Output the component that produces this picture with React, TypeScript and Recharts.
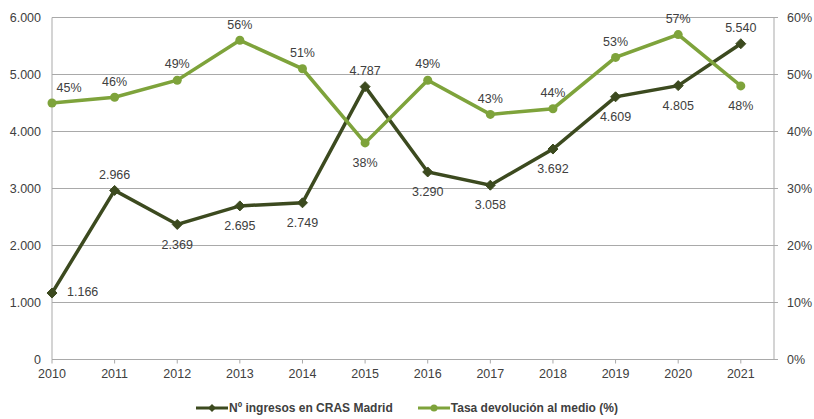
import React from "react";
import { LineChart, Line, XAxis, YAxis, CartesianGrid, LabelList } from "recharts";

const years = [2010, 2011, 2012, 2013, 2014, 2015, 2016, 2017, 2018, 2019, 2020, 2021];
const ingresos = [1166, 2966, 2369, 2695, 2749, 4787, 3290, 3058, 3692, 4609, 4805, 5540];
const tasa = [45, 46, 49, 56, 51, 38, 49, 43, 44, 53, 57, 48];
const leftTicks = [0, 1000, 2000, 3000, 4000, 5000, 6000];
const rightTicks = [0, 10, 20, 30, 40, 50, 60];

// where each data label sits relative to its point
const ingresosLabelPos = ["right", "up", "down", "down", "down", "up", "down", "down", "down", "down", "down", "up"];
const tasaLabelPos = ["upright", "up", "up", "up", "up", "down", "up", "up", "up", "up", "up", "down"];

const DARK = "#3c4a1f";
const LIGHT = "#7ea33b";
const GRID = "#a9a9a9";
const TEXT = "#404040";
const FONT = "'Liberation Sans', Arial, sans-serif";

const data = years.map((y, i) => ({ year: y, ingresos: ingresos[i], tasa: tasa[i] }));

const fmtThousands = (v: number) => String(v).replace(/\B(?=(\d{3})+(?!\d))/g, ".");

const Diamond = (props: any) => {
  const { cx, cy } = props;
  if (cx == null || cy == null) return null;
  const s = 5;
  return <path d={`M${cx},${cy - s}L${cx + s},${cy}L${cx},${cy + s}L${cx - s},${cy}Z`} fill={DARK} stroke={DARK} />;
};

const Circle = (props: any) => {
  const { cx, cy } = props;
  if (cx == null || cy == null) return null;
  return <circle cx={cx} cy={cy} r={4.5} fill={LIGHT} />;
};

const makeLabel = (positions: string[], fmt: (v: number) => string) => (props: any) => {
  const { x, y, value, index } = props;
  const pos = positions[index];
  let dx = 0;
  let dy = 0;
  let anchor = "middle";
  if (pos === "up") dy = -15;
  if (pos === "upright") {
    dy = -14;
    dx = 17;
  }
  if (pos === "down") dy = 21;
  if (pos === "right") {
    dx = 15;
    anchor = "start";
  }
  return (
    <text x={x + dx} y={y + dy} textAnchor={anchor} dominantBaseline="middle" fill={TEXT} fontSize={12.5} fontFamily={FONT}>
      {fmt(value)}
    </text>
  );
};

const LegendItem = ({ color, label, diamond, gap }: any) => (
  <div style={{ display: "flex", alignItems: "center", marginRight: gap || 0 }}>
    <svg width={32} height={12}>
      <line x1={0} y1={6} x2={32} y2={6} stroke={color} strokeWidth={3} />
      {diamond ? <path d="M16,2L20,6L16,10L12,6Z" fill={color} /> : <circle cx={16} cy={6} r={3.5} fill={color} />}
    </svg>
    <span style={{ marginLeft: 1, fontSize: 12, fontWeight: "bold", color: TEXT, fontFamily: FONT }}>{label}</span>
  </div>
);

export default function App() {
  return (
    <div style={{ position: "fixed", left: 0, top: 0, width: 814, height: 419, background: "#fff" }}>
      <LineChart width={814} height={419} data={data} margin={{ top: 17.5, right: 0, bottom: 29.5, left: 0 }}>
        <CartesianGrid yAxisId="left" vertical={false} stroke={GRID} />
        <XAxis
          dataKey="year"
          type="number"
          domain={[2010, 2021.53]}
          ticks={years}
          height={30}
          axisLine={{ stroke: GRID }}
          tickLine={{ stroke: GRID }}
          tickSize={4}
          tickMargin={6}
          tick={{ fill: TEXT, fontSize: 12.5, fontFamily: FONT }}
        />
        <YAxis
          yAxisId="left"
          width={52}
          domain={[0, 6000]}
          ticks={leftTicks}
          tickFormatter={fmtThousands}
          axisLine={{ stroke: GRID }}
          tickLine={false}
          tickMargin={5}
          tick={{ fill: TEXT, fontSize: 12.5, fontFamily: FONT }}
        />
        <YAxis
          yAxisId="right"
          orientation="right"
          width={40}
          domain={[0, 60]}
          ticks={rightTicks}
          tickFormatter={(v: number) => `${v}%`}
          axisLine={{ stroke: GRID }}
          tickLine={{ stroke: GRID }}
          tickSize={4}
          tickMargin={9}
          tick={{ fill: TEXT, fontSize: 12.5, fontFamily: FONT }}
        />
        <Line
          yAxisId="left"
          dataKey="ingresos"
          stroke={DARK}
          strokeWidth={3.5}
          dot={<Diamond />}
          activeDot={false}
          isAnimationActive={false}
        >
          <LabelList dataKey="ingresos" content={makeLabel(ingresosLabelPos, fmtThousands)} />
        </Line>
        <Line
          yAxisId="right"
          dataKey="tasa"
          stroke={LIGHT}
          strokeWidth={3.5}
          dot={<Circle />}
          activeDot={false}
          isAnimationActive={false}
        >
          <LabelList dataKey="tasa" content={makeLabel(tasaLabelPos, (v) => `${v}%`)} />
        </Line>
      </LineChart>
      <div style={{ position: "absolute", left: 0, top: 401, width: 814, display: "flex", justifyContent: "center" }}>
        <LegendItem color={DARK} label="Nº ingresos en CRAS Madrid" diamond gap={25} />
        <LegendItem color={LIGHT} label="Tasa devolución al medio (%)" />
      </div>
    </div>
  );
}
